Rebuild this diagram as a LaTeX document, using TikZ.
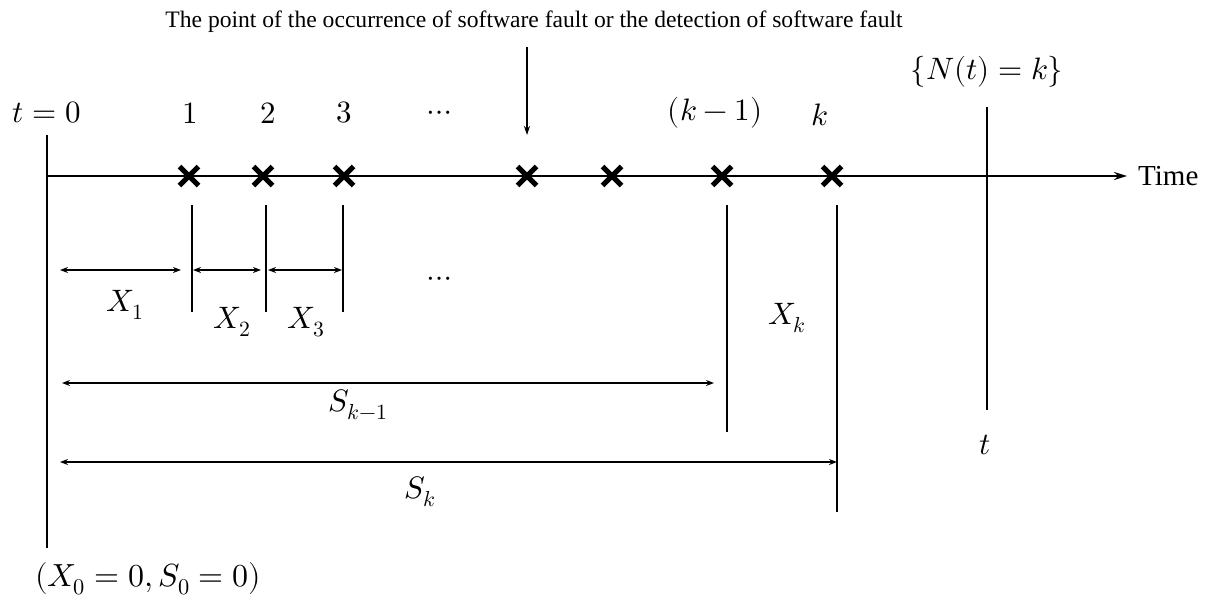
\documentclass[tikz,border=0pt]{standalone}
\usepackage{unicode-math}
\setmathfont{Latin Modern Math}
\newfontfamily\tnr{Liberation Serif}
\usetikzlibrary{arrows.meta,shapes.misc}
\begin{document}
\begin{tikzpicture}[x=1pt,y=-1pt,
  axis/.style={line width=2.2pt,-{Stealth[length=13pt,width=8pt]}},
  fault/.style={cross out,draw,line width=5pt,minimum size=14pt,inner sep=0pt},
  vline/.style={line width=1.5pt},
  dim/.style={line width=1.3pt,{Stealth[length=8pt,width=6pt]}-{Stealth[length=8pt,width=6pt]}},
  pointer/.style={line width=1.2pt,-{Stealth[length=9pt,width=6pt]}},
  lab/.style={font=\fontsize{31}{34}\selectfont,inner sep=0pt},
  biglab/.style={font=\fontsize{32}{35}\selectfont,inner sep=0pt},
  title/.style={font=\tnr\fontsize{23.6}{26}\selectfont,inner sep=0pt},
  timelab/.style={font=\tnr\fontsize{29}{32}\selectfont,inner sep=0pt}]
\useasboundingbox (0,0) rectangle (1212,600);

% time axis
\coordinate (o) at (47,176);
\coordinate (tend) at (1127,176);
\draw[axis] (o) -- (tend);
\node[timelab,anchor=west] (time) at (1138,176) {Time};

% t = 0 vertical
\coordinate (v0t) at (47,135);
\coordinate (v0b) at (47,548);
\draw[vline] (v0t) -- (v0b);
\node[lab] (t0) at (47,113) {$t=0$};
\node[biglab] (init) at (148,579) {$(X_0=0,S_0=0)$};

% fault marks
\foreach \n/\x in {1/189,2/263,3/344,4/527,5/612,6/722,7/832}
  \node[fault] (f\n) at (\x,176) {};

% event labels
\node[lab] (l1) at (190,113) {$1$};
\node[lab] (l2) at (268,113) {$2$};
\node[lab] (l3) at (344,113) {$3$};
\node[lab] (ldots) at (440,116) {$\cdots$};
\node[lab] (lkm) at (715,113) {$(k-1)$};
\node[lab] (lk) at (820,115) {$k$};

% title and pointer
\node[title] (ttl) at (534,22) {The point of the occurrence of software fault or the detection of software fault};
\coordinate (pt) at (527,47);
\coordinate (pb) at (527,135);
\draw[pointer] (pt) -- (pb);

% N(t)=k and t
\node[lab] (nt) at (987,72) {$\{N(t)=k\}$};
\coordinate (ntt) at (987,107);
\coordinate (ntb) at (987,410);
\draw[vline] (ntt) -- (ntb);
\node[lab] (tl) at (985,445) {$t$};

% ticks
\foreach \n/\x/\b in {1/192/312,2/266/312,3/343/312,6/727/432,7/837/512}{
  \coordinate (k\n t) at (\x,205);
  \coordinate (k\n b) at (\x,\b);
  \draw[vline] (k\n t) -- (k\n b);
}

% dimension arrows
\coordinate (a1l) at (60,270);  \coordinate (a1r) at (181,270);
\coordinate (a2l) at (193,270); \coordinate (a2r) at (261,270);
\coordinate (a3l) at (268,270); \coordinate (a3r) at (342,270);
\draw[dim] (a1l) -- (a1r);
\draw[dim] (a2l) -- (a2r);
\draw[dim] (a3l) -- (a3r);
\node[lab] (x1) at (125,305) {$X_1$};
\node[lab] (x2) at (232,322) {$X_2$};
\node[lab] (x3) at (306,322) {$X_3$};
\node[lab] (xdots) at (440,282) {$\cdots$};
\node[lab] (xk) at (787,318) {$X_k$};

\coordinate (s1l) at (62,383); \coordinate (s1r) at (714,383);
\draw[dim] (s1l) -- (s1r);
\node[lab] (sk1) at (358,405) {$S_{k-1}$};
\coordinate (s2l) at (60,462); \coordinate (s2r) at (837,462);
\draw[dim] (s2l) -- (s2r);
\node[lab] (sk) at (420,492) {$S_k$};
\end{tikzpicture}
\end{document}
